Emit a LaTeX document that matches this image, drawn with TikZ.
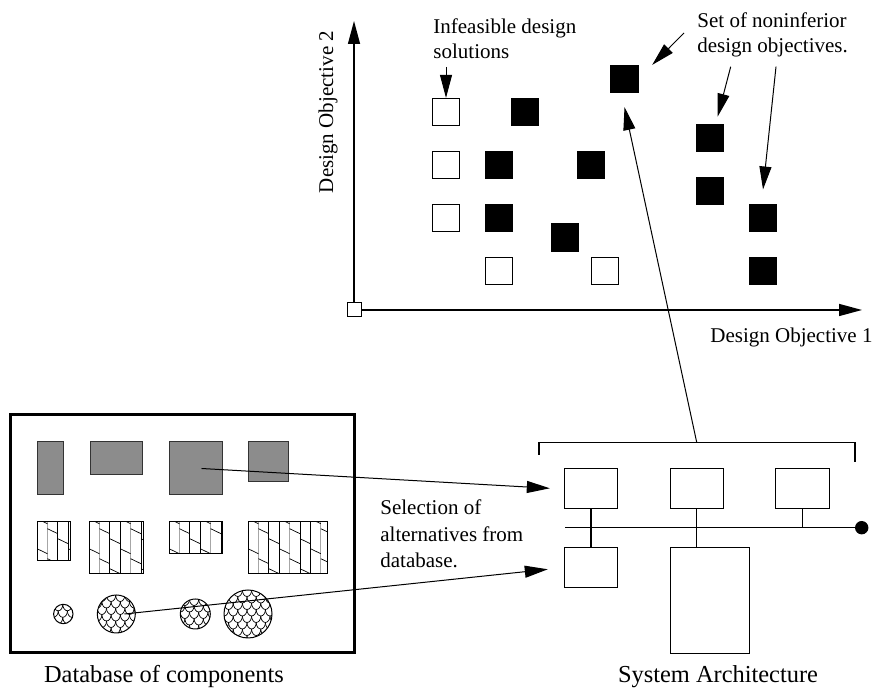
\documentclass[tikz,border=0pt]{standalone}
\usepackage{fontspec}
\setmainfont{Liberation Serif}
\usetikzlibrary{arrows.meta,calc}
\newcommand{\lblfont}{\fontsize{10.5}{12.5}\selectfont}
\newcommand{\capfont}{\fontsize{12.2}{14.6}\selectfont}
% shingle hatched component: (lower left)(upper right)
\def\shingles(#1,#2)(#3,#4){%
	\begin{scope}
		\clip (#1,#2) rectangle (#3,#4);
		\foreach \hi in {1,4,7} \draw[black!35, line width=0.6pt] ({#1+\hi*10.4},#2) -- ({#1+\hi*10.4},#4);
		\foreach \hi in {2,3,5,6,8} \draw[line width=0.45pt] ({#1+\hi*10.4},#2) -- ({#1+\hi*10.4},#4);
		\foreach \hi in {0,...,8} \foreach \hk in {-1,...,2} {
			\pgfmathsetmacro\hoff{mod(10*\hi+26.7,30)+30*\hk}
			\draw[line width=0.35pt] ({#1+\hi*10.4},{#4-\hoff}) -- ({#1+(\hi+1)*10.4},{#4-\hoff-5});
		}
	\end{scope}
	\draw[line width=0.5pt] (#1,#2) rectangle (#3,#4);
}
% fish scale component: [name](centre)(radius)
\def\scales[#1](#2,#3)(#4){%
	\begin{scope}
		\clip (#2,#3) circle (#4);
		\foreach \row in {0,...,9} \foreach \col in {-1,...,6} {
			\draw[line width=0.35pt] ({#2-#4+\col*9.2+mod(\row,2)*4.6},{#3+#4-\row*6.5}) arc[start angle=180, end angle=360, x radius=4.6, y radius=6.5];
		}
	\end{scope}
	\node[draw, circle, inner sep=0pt, line width=0.5pt, minimum size=#4pt] (#1) at (#2,#3) {};
}

\begin{document}
\begin{tikzpicture}[x=0.5pt, y=0.5pt,
		sq/.style={draw, minimum size=13.5pt, inner sep=0pt, line width=0.6pt},
		feas/.style={sq, fill=black},
		infeas/.style={sq, fill=white},
		comp/.style={draw=black!80, fill=black!45, inner sep=0pt, line width=0.5pt},
		sysbox/.style={draw, inner sep=0pt, line width=0.5pt, minimum width=26.7pt, minimum height=20pt},
		lbl/.style={font=\lblfont, inner sep=0pt, align=left},
		arr/.style={-{Triangle[length=11.5pt,width=6pt]}, line width=0.5pt},
		axisline/.style={-{Triangle[length=11.5pt,width=6pt]}, line width=0.7pt}]
	%%%%% START %%%%%
	\useasboundingbox (0,0) rectangle (876,694);
	
	% objective space
	\node[draw, fill=white, minimum size=7pt, inner sep=0pt, line width=0.5pt] (orig) at (354,384) {};
	\coordinate (ytip) at (354,673);
	\coordinate (xtip) at (862,384);
	\draw[axisline] (orig.north) -- (ytip);
	\draw[axisline] (orig.east) -- (xtip);
	\node[lbl, rotate=90] (dobj2) at (328,582) {Design Objective 2};
	\node[lbl, anchor=base west] (dobj1) at (710,351.3) {Design Objective 1};
	
	\node[infeas] (ifs1) at (446,582) {};
	\node[infeas] (ifs2) at (446,529) {};
	\node[infeas] (ifs3) at (446,476) {};
	\node[infeas] (ifs4) at (499,423) {};
	\node[infeas] (ifs5) at (605,423) {};
	
	\node[feas] (fs1) at (525,582) {};
	\node[feas] (fs2) at (624.5,615) {};
	\node[feas] (fs3) at (499,529) {};
	\node[feas] (fs4) at (591,529) {};
	\node[feas] (fs5) at (710,556) {};
	\node[feas] (fs6) at (710,503) {};
	\node[feas] (fs7) at (499,476) {};
	\node[feas] (fs8) at (565,456.5) {};
	\node[feas] (fs9) at (763,476) {};
	\node[feas] (fs10) at (763,423) {};
	
	\node[lbl, anchor=north west] (infeas) at (433,675.5) {Infeasible design\\solutions};
	\coordinate (ifstail) at (446,627);
	\draw[arr] (ifstail) -- (ifs1.north);
	
	\node[lbl, anchor=north west] (noninf) at (697,681.5) {Set of noninferior\\design objectives.};
	\coordinate (nitail1) at (684,661);
	\coordinate (nitail2) at (730.7,627.3);
	\coordinate (nitail3) at (776,627.3);
	\draw[arr] (nitail1) -- ([xshift=6.8pt]fs2.north east);
	\draw[arr] (nitail2) -- ([xshift=3.8pt,yshift=3.6pt]fs5.north);
	\draw[arr] (nitail3) -- ([yshift=7.2pt]fs9.north);
	
	% database of components
	\draw[line width=1.5pt] (10,41) rectangle (354,279);
	\node[comp, minimum width=13pt, minimum height=26.5pt] (g1) at (50,225.5) {};
	\node[comp, minimum width=26pt, minimum height=16.5pt] (g2) at (116,235.5) {};
	\node[comp, minimum width=26.5pt, minimum height=26.5pt] (g3) at (195.5,225.5) {};
	\node[comp, minimum width=20pt, minimum height=20pt] (g4) at (268,232) {};
	
	\shingles(37,133)(70,172)
	\shingles(89,120)(143,172)
	\shingles(169,140)(222,172)
	\shingles(248,120)(327,172)
	
	\scales[c1](63.3,80)(9.7)
	\scales[c2](116.3,80)(19)
	\scales[c3](195.3,80)(15)
	\scales[c4](248,80)(24)
	
	\node[font=\capfont, anchor=base] (dbname) at (164,11) {Database of components};
	
	% system architecture
	\node[sysbox] (b1) at (591,205.7) {};
	\node[sysbox] (b2) at (696.8,205.7) {};
	\node[sysbox] (b3) at (802.5,205.7) {};
	\node[sysbox] (b4) at (591,126.7) {};
	\node[sysbox, minimum width=39.7pt, minimum height=53pt] (b5) at (710,93.7) {};
	\coordinate (busL) at (565,166.3);
	\node[circle, fill=black, inner sep=0pt, minimum size=6.7pt] (busR) at (861.7,166.3) {};
	\draw[line width=0.65pt] (busL) -- (busR.center);
	\draw[line width=0.6pt] (b1.south) -- (b4.north);
	\draw[line width=0.6pt] (b2.south) -- (b2.south |- b5.north);
	\draw[line width=0.6pt] (b3.south) -- (b3.south |- busL);
	\draw[line width=0.6pt] (539,239) -- (539,251.7) -- (855,251.7) -- (855,232);
	\node[font=\capfont, anchor=base] (sysname) at (718,11) {System Architecture};
	
	\coordinate (brk) at (696.7,251.7);
	\draw[arr] (brk) -- ([yshift=-7pt]fs2.south);
	
	\node[lbl, anchor=north west, font=\fontsize{10.5}{13.2}\selectfont] (select) at (380,194.5) {Selection of\\alternatives from\\database.};
	\draw[arr] ([xshift=3pt]g3.center) -- ([xshift=-7pt]b1.west);
	\draw[arr] ([xshift=4pt]c2.center) -- ([xshift=-8pt,yshift=-1pt]b4.west);
	
	%%%%% END %%%%%
\end{tikzpicture}
\end{document}
